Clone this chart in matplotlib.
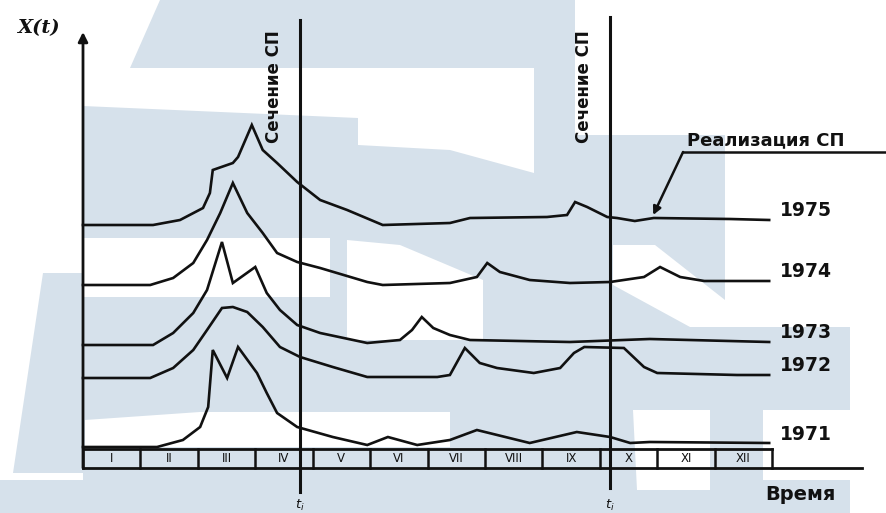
import numpy as np
import matplotlib
matplotlib.use("Agg")
import matplotlib.pyplot as plt
from matplotlib.patches import Polygon

# Realizations of the random process X(t): month (0..12) vs. level
months_1975 = [0, 1.22, 1.69, 2.09, 2.21, 2.26, 2.61, 2.70, 2.94, 3.13, 3.38, 3.73, 4.13, 4.60, 5.22,
               6.39, 6.74, 8.08, 8.43, 8.57, 8.78, 9.13, 9.30, 9.61, 9.94, 11.27, 11.95]
values_1975 = [22.4, 22.4, 22.9, 24.1, 25.6, 27.9, 28.6, 29.2, 32.4, 29.9, 28.6, 26.7, 24.9, 23.9, 22.4,
               22.6, 23.1, 23.2, 23.4, 24.7, 24.2, 23.2, 23.1, 22.8, 23.1, 23.0, 22.9]

months_1974 = [0, 1.17, 1.57, 1.92, 2.16, 2.39, 2.61, 2.86, 3.13, 3.38, 3.73, 4.13, 4.95, 5.22, 6.39,
               6.86, 7.04, 7.26, 7.78, 8.48, 9.18, 9.77, 10.05, 10.40, 10.82, 11.95]
values_1974 = [16.4, 16.4, 17.1, 18.6, 20.9, 23.6, 26.6, 23.6, 21.6, 19.6, 18.7, 18.1, 16.7, 16.4, 16.6,
               17.2, 18.6, 17.7, 16.9, 16.6, 16.7, 17.2, 18.2, 17.2, 16.8, 16.8]

months_1973 = [0, 1.22, 1.57, 1.92, 2.16, 2.42, 2.61, 3.00, 3.20, 3.43, 3.73, 4.13, 4.95, 5.52, 5.73,
               5.90, 6.10, 6.39, 6.74, 8.48, 9.87, 11.95]
values_1973 = [10.4, 10.4, 11.6, 13.6, 15.9, 20.7, 16.6, 18.2, 15.6, 13.9, 12.4, 11.6, 10.6, 10.9, 11.9,
               13.2, 12.1, 11.4, 10.9, 10.7, 11.0, 10.7]

months_1972 = [0, 1.17, 1.57, 1.92, 2.16, 2.42, 2.61, 2.86, 3.13, 3.43, 3.78, 4.35, 4.95, 6.17, 6.39,
               6.65, 6.91, 7.21, 7.85, 8.31, 8.55, 8.73, 9.42, 9.77, 10.00, 11.39, 11.95]
values_1972 = [7.1, 7.1, 8.1, 9.9, 11.9, 14.1, 14.2, 13.7, 12.2, 10.2, 9.2, 8.2, 7.2, 7.2, 7.4,
               10.1, 8.6, 8.1, 7.6, 8.1, 9.6, 10.2, 10.1, 8.2, 7.6, 7.4, 7.4]

months_1971 = [0, 1.29, 1.74, 2.04, 2.18, 2.26, 2.51, 2.70, 3.03, 3.20, 3.38, 3.73, 4.35, 4.95, 5.31,
               5.82, 6.39, 6.86, 7.78, 8.60, 9.18, 9.53, 9.87, 11.95]
values_1971 = [0.2, 0.2, 0.9, 2.2, 4.2, 9.9, 7.1, 10.2, 7.6, 5.6, 3.6, 2.2, 1.2, 0.4, 1.2,
               0.4, 0.9, 1.9, 0.6, 1.7, 1.2, 0.6, 0.7, 0.6]

years = ["1975", "1974", "1973", "1972", "1971"]
month_labels = ["I", "II", "III", "IV", "V", "VI", "VII", "VIII", "IX", "X", "XI", "XII"]
sections = [3.78, 9.18]  # t1, t2

series = [(months_1975, values_1975), (months_1974, values_1974), (months_1973, values_1973),
          (months_1972, values_1972), (months_1971, values_1971)]

INK = "#111111"
WATER = "#d6e1eb"

fig = plt.figure(figsize=(8.87, 5.13), dpi=100)

# watermark in the background (pixel coords, y down)
bg = fig.add_axes([0, 0, 1, 1])
bg.set_xlim(0, 887)
bg.set_ylim(513, 0)
bg.axis("off")
blue_shapes = [
    [(160, 0), (575, 0), (575, 135), (725, 135), (725, 327), (850, 327), (850, 513), (83, 513), (83, 68), (130, 68)],
    [(43, 273), (83, 273), (83, 473), (13, 473)],
    [(0, 480), (83, 480), (83, 513), (0, 513)],
]
white_shapes = [
    [(83, 68), (534, 68), (534, 173), (450, 150), (358, 145), (358, 118), (83, 106)],
    [(83, 238), (330, 238), (330, 297), (83, 297)],
    [(347, 240), (400, 245), (483, 280), (483, 340), (347, 340)],
    [(613, 245), (655, 245), (725, 300), (725, 327), (690, 327), (613, 285)],
    [(85, 420), (200, 412), (450, 412), (450, 447), (85, 447)],
    [(633, 410), (710, 410), (710, 490), (637, 490)],
    [(763, 410), (850, 410), (850, 480), (763, 480)],
]
for pts in blue_shapes:
    bg.add_patch(Polygon(pts, closed=True, fc=WATER, ec="none"))
for pts in white_shapes:
    bg.add_patch(Polygon(pts, closed=True, fc="white", ec="none"))

# main drawing: x in months, y in process units
ax = fig.add_axes([0, 0, 1, 1])
ax.patch.set_alpha(0)
ax.set_xlim(-1.4455, 14.002)
ax.set_ylim(-6.4, 44.9)
ax.axis("off")

for (m, v), year in zip(series, years):
    ax.plot(m, v, color=INK, lw=1.9, solid_joinstyle="miter")
    ax.text(12.14, v[-1] + 0.9, year, fontsize=13.5, fontweight="bold", color=INK, va="center", ha="left")

# month strip under the curves
band_top, band_bot = 0.0, -1.9
ax.plot([0, 12], [band_top, band_top], color=INK, lw=2)
ax.plot([0, 13.57], [band_bot, band_bot], color=INK, lw=2)
for k in range(13):
    ax.plot([k, k], [band_top, band_bot], color=INK, lw=1.8)
for k, lab in enumerate(month_labels):
    ax.text(k + 0.5, (band_top + band_bot) / 2, lab, fontsize=8.5, color=INK, ha="center", va="center")

# y axis with arrow
ax.annotate("", xy=(0, 41.7), xytext=(0, band_bot),
            arrowprops=dict(arrowstyle="-|>", lw=2, color=INK, mutation_scale=14, shrinkA=0, shrinkB=0))
ax.text(-0.78, 42.1, "X(t)", fontsize=14, fontstyle="italic", family="DejaVu Serif",
        fontweight="bold", ha="center", va="center", color=INK)

# sections of the random process
for sx, top, bot in zip(sections, [42.9, 43.2], [-4.3, -3.9]):
    ax.plot([sx, sx], [bot, top], color=INK, lw=2.2)
    ax.text(sx - 0.45, 36.2, "Сечение СП", rotation=90, fontsize=12, fontweight="bold",
            ha="center", va="center", color=INK)
    ax.text(sx, -5.6, "$t_i$", fontsize=9.5, ha="center", va="center", color=INK)

# realization callout
ax.text(10.52, 30.9, "Реализация СП", fontsize=13, fontweight="bold", ha="left", va="center", color=INK)
ax.plot([10.45, 13.99], [29.7, 29.7], color=INK, lw=1.8)
ax.annotate("", xy=(9.93, 23.4), xytext=(10.45, 29.7),
            arrowprops=dict(arrowstyle="-|>", lw=1.8, color=INK, mutation_scale=12, shrinkA=0, shrinkB=0))

ax.text(12.49, -4.6, "Время", fontsize=14, fontweight="bold", ha="center", va="center", color=INK)

fig.savefig("out.png", dpi=100)
